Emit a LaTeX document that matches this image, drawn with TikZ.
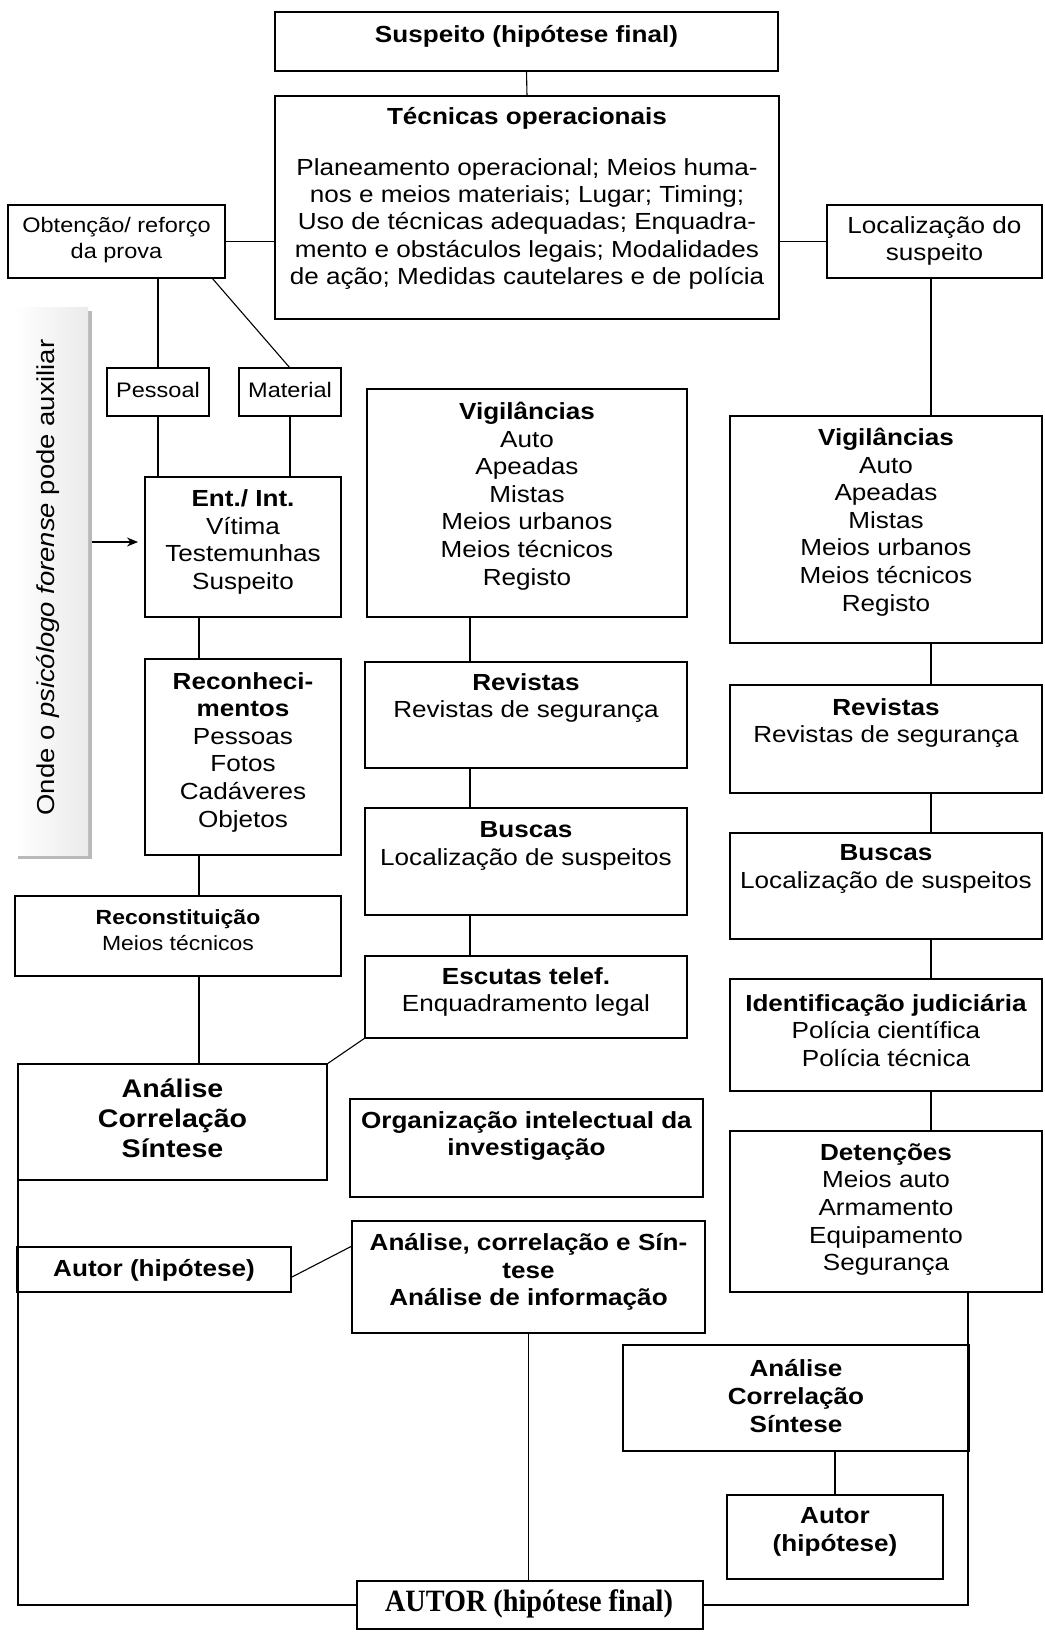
\documentclass[tikz,border=0pt]{standalone}
\usepackage{fontspec}
\setmainfont[FakeStretch=1.12]{Liberation Sans}
\newfontfamily\serifb[FakeStretch=0.91]{Liberation Serif}
\usetikzlibrary{arrows.meta,shadows}
\newcommand\fmain{\fontsize{23.3}{27.6}\selectfont}
\newcommand\fsmall{\fontsize{21}{26.5}\selectfont}
\newcommand\fbig{\fontsize{25.5}{30}\selectfont\bfseries}
\newcommand\bx[5]{\node[boxs, minimum width={(#4-#2)*1pt}, minimum height={(#5-#3)*1pt}] (#1) at ({(#2+#4)/2},{(#3+#5)/2}) {};}
\tikzset{
  boxs/.style={draw, line width=1.6pt, inner sep=0pt, outer sep=0pt},
  conn/.style={line width=1.1pt},
  txt/.style={align=center, inner sep=0pt, font=\fmain},
  ondebox/.style={inner sep=0pt, outer sep=0pt, left color=white, right color=gray!16,
    drop shadow={shadow xshift=3.5pt, shadow yshift=-3.5pt, fill=gray!55, opacity=1}},
}
\begin{document}
\begin{tikzpicture}[x=1pt,y=-1pt]
\useasboundingbox[fill=white] (0,0) rectangle (1044,1638);

% boxes
\bx{sus}{275}{12}{778}{71}
\bx{tec}{275}{96}{779}{319}
\bx{obt}{8}{205}{225}{278}
\bx{loc}{827}{205}{1042}{278}
\bx{pes}{107}{368}{209}{416}
\bx{mat}{239}{368}{341}{416}
\bx{ent}{145}{477}{341}{617}
\bx{vig}{367}{389}{687}{617}
\bx{vigR}{730}{416}{1042}{643}
\bx{rec}{145}{659}{341}{855}
\bx{rev}{365}{662}{687}{768}
\bx{revR}{730}{685}{1042}{793}
\bx{bus}{365}{808}{687}{915}
\bx{busR}{730}{833}{1042}{939}
\bx{recon}{15}{896}{341}{976}
\bx{esc}{365}{956}{687}{1038}
\bx{idR}{730}{979}{1042}{1091}
\bx{anl}{18}{1064}{327}{1180}
\bx{org}{350}{1099}{703}{1197}
\bx{det}{730}{1131}{1042}{1292}
\bx{autL}{17}{1247}{291}{1292}
\bx{anc}{352}{1221}{705}{1333}
\bx{anR}{623}{1345}{969}{1451}
\bx{autR}{727}{1495}{943}{1579}
\bx{fin}{357}{1581}{703}{1629}

% side note box
\node[ondebox, minimum width=74pt, minimum height=548pt] (onde) at (51,581) {};
\node[txt, rotate=90, font=\fontsize{24.5}{28}\selectfont] (onde-t) at (48.5,577.5) {Onde o \textit{psicólogo forense} pode auxiliar};

% texts
\node[txt] (sus-t) at (526.5,36) {\textbf{Suspeito (hipótese final)}};
\node[txt] (tec-h) at (527,118) {\textbf{Técnicas operacionais}};
\node[txt, font=\fontsize{23.3}{27.2}\selectfont] (tec-t) at (527,224) {Planeamento operacional; Meios huma-\\nos e meios materiais; Lugar; Timing;\\Uso de técnicas adequadas; Enquadra-\\mento e obstáculos legais; Modalidades\\de ação; Medidas cautelares e de polícia};
\node[txt, font=\fsmall] (obt-t) at (116.5,240) {Obtenção/ reforço\\da prova};
\node[txt] (loc-t) at (934.5,241) {Localização do\\suspeito};
\node[txt, font=\fsmall] (pes-t) at (158,390) {Pessoal};
\node[txt, font=\fsmall] (mat-t) at (290,390) {Material};
\node[txt] (ent-t) at (243,542) {\textbf{Ent./ Int.}\\Vítima\\Testemunhas\\Suspeito};
\node[txt] (vig-t) at (527,496) {\textbf{Vigilâncias}\\Auto\\Apeadas\\Mistas\\Meios urbanos\\Meios técnicos\\Registo};
\node[txt] (vigR-t) at (886,522) {\textbf{Vigilâncias}\\Auto\\Apeadas\\Mistas\\Meios urbanos\\Meios técnicos\\Registo};
\node[txt] (rec-t) at (243,752) {\textbf{Reconheci-}\\\textbf{mentos}\\Pessoas\\Fotos\\Cadáveres\\Objetos};
\node[txt] (rev-t) at (526,698) {\textbf{Revistas}\\Revistas de segurança};
\node[txt] (revR-t) at (886,723) {\textbf{Revistas}\\Revistas de segurança};
\node[txt] (bus-t) at (526,846) {\textbf{Buscas}\\Localização de suspeitos};
\node[txt] (busR-t) at (886,869) {\textbf{Buscas}\\Localização de suspeitos};
\node[txt, font=\fontsize{20.5}{25.5}\selectfont] (recon-t) at (178,930) {\textbf{Reconstituição}\\Meios técnicos};
\node[txt] (esc-t) at (526,992) {\textbf{Escutas telef.}\\Enquadramento legal};
\node[txt] (idR-t) at (886,1030.5) {\textbf{Identificação judiciária}\\Polícia científica\\Polícia técnica};
\node[txt, font=\fbig] (anl-t) at (172.5,1118) {Análise\\Correlação\\Síntese};
\node[txt] (org-t) at (526.5,1136) {\textbf{Organização intelectual da}\\\textbf{investigação}};
\node[txt] (det-t) at (886,1209.5) {\textbf{Detenções}\\Meios auto\\Armamento\\Equipamento\\Segurança};
\node[txt] (autL-t) at (154,1270) {\textbf{Autor (hipótese)}};
\node[txt, font=\fmain\bfseries] (anc-t) at (528.5,1272) {Análise, correlação e Sín-\\tese\\Análise de informação};
\node[txt, font=\fmain\bfseries] (anR-t) at (796,1396) {Análise\\Correlação\\Síntese};
\node[txt, font=\fmain\bfseries] (autR-t) at (835,1532) {Autor\\(hipótese)};
\node[txt, font=\fontsize{31}{33}\selectfont\serifb\bfseries] (fin-t) at (529,1604) {AUTOR (hipótese final)};

% connectors
\draw[conn] (sus.south) -- (tec.north);
\draw[conn] (obt.east) -- (obt.east -| tec.west);
\draw[conn] (loc.west) -- (loc.west -| tec.east);
\draw[conn] (pes.north |- obt.south) -- (pes.north);
\draw[conn] ([xshift=-13pt]obt.south east) -- (mat.north);
\draw[conn] (pes.south) -- (pes.south |- ent.north);
\draw[conn] (mat.south) -- (mat.south |- ent.north);
\coordinate (c1) at ([xshift=54pt]ent.south west);
\draw[conn] (c1) -- (c1 |- rec.north);
\draw[conn] (c1 |- rec.south) -- (c1 |- recon.north);
\draw[conn] (c1 |- recon.south) -- (c1 |- anl.north);
\coordinate (c4) at ([xshift=103pt]vig.south west);
\draw[conn] (c4) -- (c4 |- rev.north);
\draw[conn] (c4 |- rev.south) -- (c4 |- bus.north);
\draw[conn] (c4 |- bus.south) -- (c4 |- esc.north);
\draw[conn] (esc.south west) -- (anl.north east);
\coordinate (c5) at ([xshift=201pt]vigR.south west);
\draw[conn] (c5 |- loc.south) -- (c5 |- vigR.north);
\draw[conn] (c5) -- (c5 |- revR.north);
\draw[conn] (c5 |- revR.south) -- (c5 |- busR.north);
\draw[conn] (c5 |- busR.south) -- (c5 |- idR.north);
\draw[conn] (c5 |- idR.south) -- (c5 |- det.north);
\coordinate (c6) at ([xshift=238pt]det.south west);
\draw[conn] (c6) -- (c6 |- fin.east) -- (fin.east);
\draw[conn] (autR.north) -- (autR.north |- anR.south);
\draw[conn] ([yshift=-8pt]autL.east) -- ([yshift=-25pt]anc.north west);
\draw[conn] (anc.south) -- (anc.south |- fin.north);
\draw[conn] (anl.south west) -- (anl.south west |- fin.west) -- (fin.west);
\coordinate (arw) at (92,542);
\draw[conn, -{Stealth[length=11pt,width=9pt]}, shorten >=7pt] (arw) -- (arw -| ent.west);
\end{tikzpicture}
\end{document}
